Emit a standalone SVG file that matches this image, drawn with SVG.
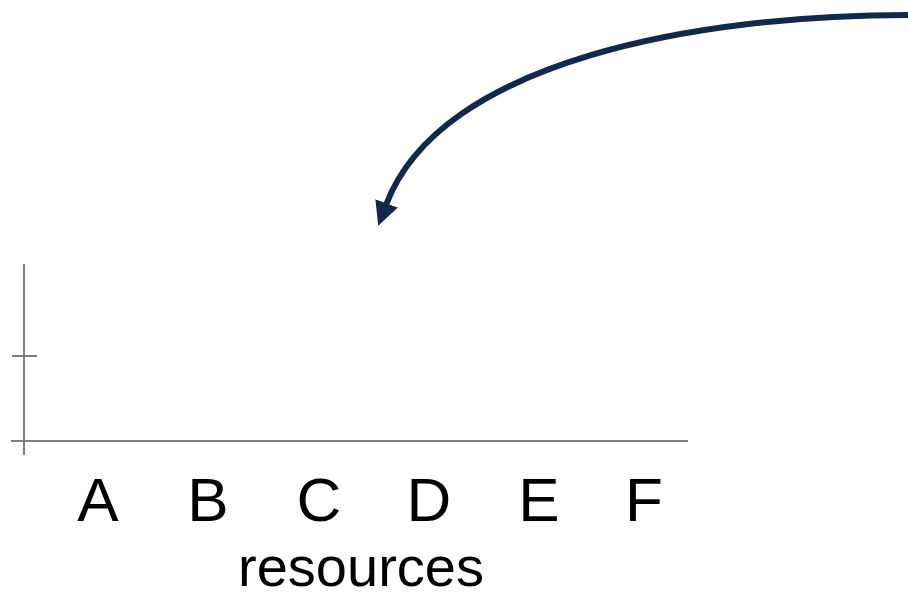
<svg xmlns="http://www.w3.org/2000/svg" width="908" height="598" viewBox="0 0 908 598">
<style>
.axis{stroke:#7f7f7f;stroke-width:2;fill:none}
.lbl{font-family:"Liberation Sans",Arial,sans-serif;font-size:62px;fill:#000;text-anchor:middle}
.sub{font-size:56px}
.conn{stroke:#13294b;stroke-width:6;fill:none}
</style>
<defs>
<marker id="ah" markerWidth="4" markerHeight="4" refX="0.3" refY="2" orient="auto" markerUnits="strokeWidth">
<path d="M0,0 L4,2 L0,4 Z" fill="#13294b"/>
</marker>
</defs>
<g id="axes">
<line class="axis" x1="24" y1="264" x2="24" y2="455"/>
<line class="axis" x1="12" y1="356" x2="37" y2="356"/>
<line class="axis" x1="11" y1="441" x2="688" y2="441"/>
</g>
<g id="labels">
<text class="lbl" x="98" y="521">A</text>
<text class="lbl" x="208" y="521">B</text>
<text class="lbl" x="319" y="521">C</text>
<text class="lbl" x="429" y="521">D</text>
<text class="lbl" x="539" y="521">E</text>
<text class="lbl" x="644" y="521">F</text>
<text class="lbl sub" x="361" y="586">resources</text>
</g>
<g id="connectors">
<path class="conn" d="M908,15 C700,15 440,60 386,205" marker-end="url(#ah)"/>
</g>
</svg>
